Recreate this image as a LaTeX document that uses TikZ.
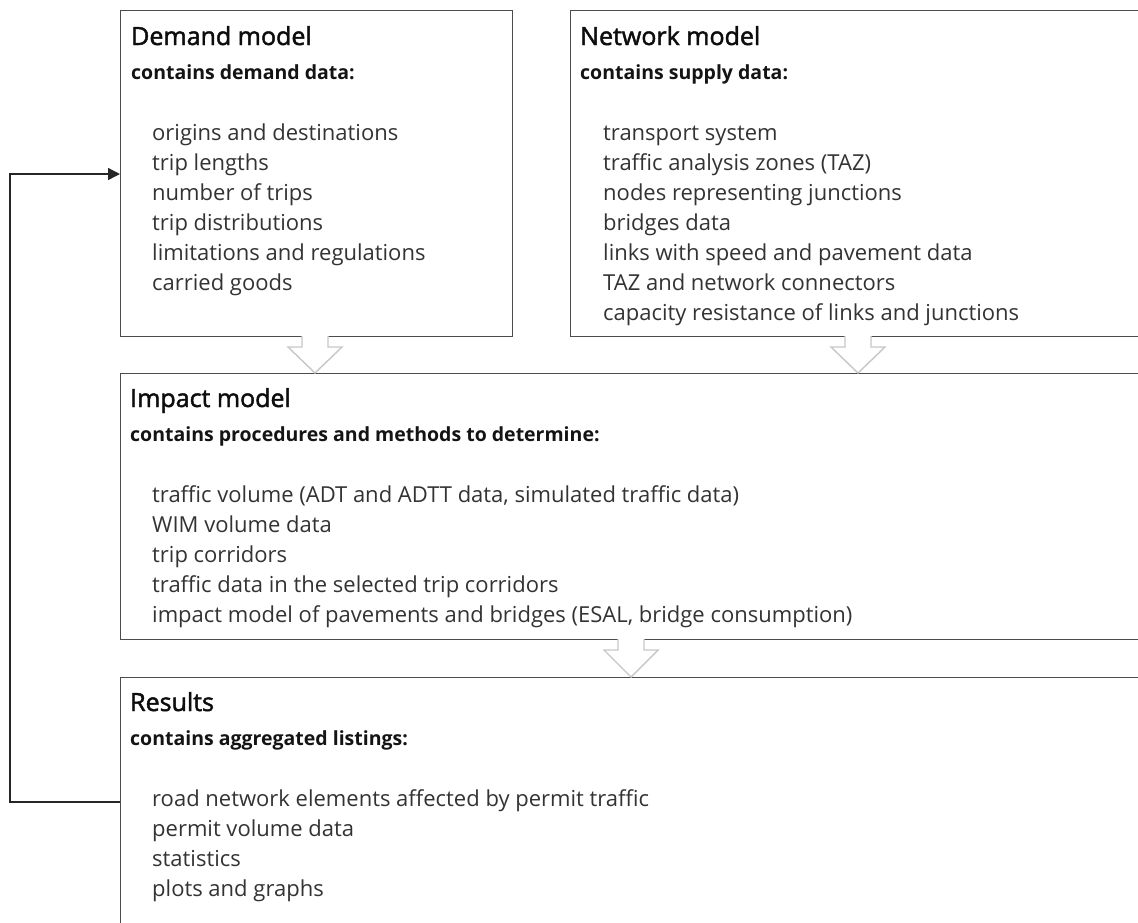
\documentclass[tikz,border=0pt]{standalone}
\usepackage{fontspec}
\setmainfont{Open Sans}
\newcommand{\semibold}[1]{\special{pdf:literal direct 2 Tr 0.45 w}#1\special{pdf:literal direct 0 Tr}}
\usetikzlibrary{arrows.meta,calc}
\begin{document}
\begin{tikzpicture}[x=1pt,y=-1pt,
  box/.style={draw=black!70,line width=1.4pt,fill=white,anchor=north west,inner sep=0,rectangle},
  head/.style={anchor=base west,inner sep=0,text=black!95,font=\fontsize{25}{30}\selectfont},
  sub/.style={anchor=base west,inner sep=0,text=black!92,font=\bfseries\fontsize{19.5}{23}\selectfont},
  item/.style={anchor=base west,inner sep=0,text=black!80,font=\fontsize{22}{26}\selectfont},
  blockarrow/.style={draw=black!22,line width=1.4pt,fill=white,line join=miter},
  conn/.style={draw=black!85,line width=1.4pt,-{Triangle[length=12pt,width=12pt]}}]
\useasboundingbox (0,0) rectangle (1138,922);
\clip (0,0) rectangle (1138,922);
% boxes
\node[box,minimum width=392pt,minimum height=326pt] (demand) at (120,10) {};
\node[box,minimum width=620pt,minimum height=326pt] (network) at (570,10) {};
\node[box,minimum width=1100pt,minimum height=266pt] (impact) at (120,373) {};
\node[box,minimum width=1100pt,minimum height=300pt] (results) at (120,677) {};
% block arrows
\foreach \n/\cx/\ty/\by in {a1/315/336/373, a2/858/336/373, a3/631/639/677}{
  \coordinate (\n) at (\cx,\ty);
  \fill[white] ($(\n)+(-13,-2)$) -- ($(\n)+(13,-2)$) -- ($(\n)+(13,11)$) -- ($(\n)+(27,11)$) -- (\cx,\by) -- ($(\n)+(-27,11)$) -- ($(\n)+(-13,11)$) -- cycle;
  \draw[blockarrow] ($(\n)+(-13,0)$) -- ($(\n)+(-13,11)$) -- ($(\n)+(-27,11)$) -- (\cx,\by) -- ($(\n)+(27,11)$) -- ($(\n)+(13,11)$) -- ($(\n)+(13,0)$);
}
% loop connector
\coordinate (lout) at ([yshift=-125pt]results.north west);
\coordinate (lin) at ([yshift=-164pt]demand.north west);
\coordinate (lturn) at (10,0);
\draw[conn] (lout) -| (lturn |- lin) -- (lin);
% demand text
\node[head] (dh) at (131,45) {\semibold{Demand model}};
\node[sub] (ds) at (131,79) {contains demand data:};
\node[item] (d1) at (152,140) {origins and destinations};
\node[item] (d2) at (152,170) {trip lengths};
\node[item] (d3) at (152,200) {number of trips};
\node[item] (d4) at (152,230) {trip distributions};
\node[item] (d5) at (152,260) {limitations and regulations};
\node[item] (d6) at (152,290) {carried goods};
% network text
\node[head] (nh) at (580,45) {\semibold{Network model}};
\node[sub] (ns) at (580,79) {contains supply data:};
\node[item] (n1) at (603,140) {transport system};
\node[item] (n2) at (603,170) {traffic analysis zones (TAZ)};
\node[item] (n3) at (603,200) {nodes representing junctions};
\node[item] (n4) at (603,230) {bridges data};
\node[item] (n5) at (603,260) {links with speed and pavement data};
\node[item] (n6) at (603,290) {TAZ and network connectors};
\node[item] (n7) at (603,320) {capacity resistance of links and junctions};
% impact text
\node[head] (ih) at (130,407) {\semibold{Impact model}};
\node[sub] (is) at (130,441) {contains procedures and methods to determine:};
\node[item] (i1) at (152,502) {traffic volume (ADT and ADTT data, simulated traffic data)};
\node[item] (i2) at (152,532) {WIM volume data};
\node[item] (i3) at (152,562) {trip corridors};
\node[item] (i4) at (152,592) {traffic data in the selected trip corridors};
\node[item] (i5) at (152,622) {impact model of pavements and bridges (ESAL, bridge consumption)};
% results text
\node[head] (rh) at (130,711) {\semibold{Results}};
\node[sub] (rs) at (130,745) {contains aggregated listings:};
\node[item] (r1) at (152,806) {road network elements affected by permit traffic};
\node[item] (r2) at (152,836) {permit volume data};
\node[item] (r3) at (152,866) {statistics};
\node[item] (r4) at (152,896) {plots and graphs};
\end{tikzpicture}
\end{document}
